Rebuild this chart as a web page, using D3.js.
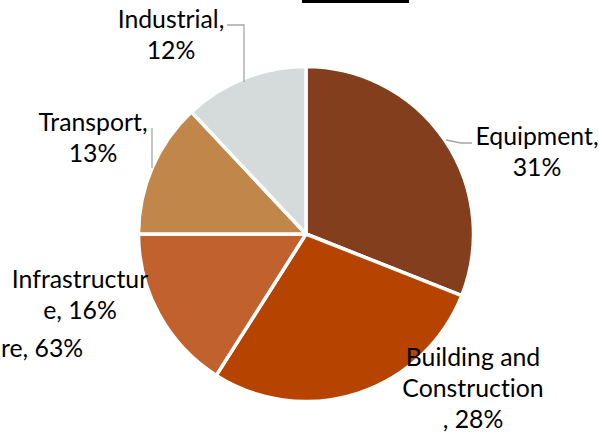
<!DOCTYPE html>
<html>
<head>
<meta charset="utf-8">
<script src="https://cdn.jsdelivr.net/npm/d3@7"></script>
<style>
  html, body { margin: 0; padding: 0; background: #fff; }
  svg { display: block; }
  text { font-family: Lato, "Open Sans", sans-serif; fill: #000; font-variant-ligatures: none; }
</style>
</head>
<body>
<div class="chart"></div>
<script>
// data
var categories = ["Equipment", "Building and Construction", "Infrastructure", "Transport", "Industrial"];
var shares = [31, 28, 16, 13, 12];
var colors = ["#833E1D", "#B74300", "#C0612E", "#C1874A", "#D5DADA"];
// label text as wrapped in the original
var labelLines = [
	["Equipment,", "31%"],
	["Building and", "Construction", ", 28%"],
	["Infrastructur", "e, 16%"],
	["Transport,", "13%"],
	["Industrial,", "12%"]
];
// stray clipped label at the left edge
var strayLabel = "re, 63%";

// layout
var width = 599, height = 434;
var cx = 306, cy = 234, radius = 167.5;
var fontSize = 24.8, lineGap = 31;
var labelPos = [
	{x: 537, y: 145},
	{x: 473, y: 366},
	{x: 80, y: 288},
	{x: 93, y: 131},
	{x: 171, y: 28}
];
var leaders = [
	[[446, 140], [461, 143], [472, 143]],
	null,
	null,
	[[152, 128], [152, 168]],
	[[227, 25], [244, 25], [244, 82]]
];

var svg = d3.select(".chart")
	.append("svg")
	.attr("width", width)
	.attr("height", height);

//black bar at top
svg.append("rect")
	.attr("x", 302)
	.attr("y", 0)
	.attr("width", 107)
	.attr("height", 3)
	.style("fill", "#000");

var pie = d3.pie().sort(null).value(function(d){ return d; });
var arc = d3.arc().innerRadius(0).outerRadius(radius);

var g = svg.append("g")
	.attr("transform", "translate(" + cx + "," + cy + ")");

g.selectAll(".slice")
	.data(pie(shares))
	.enter()
	.append("path")
	.attr("class", "slice")
	.attr("d", arc)
	.style("fill", function(d, i){ return colors[i]; })
	.style("stroke", "#fff")
	.style("stroke-width", 3.5)
	.style("stroke-linejoin", "round");

//leader lines
var line = d3.line();
svg.selectAll(".leader")
	.data(leaders.filter(function(d){ return d; }))
	.enter()
	.append("path")
	.attr("class", "leader")
	.attr("d", line)
	.style("fill", "none")
	.style("stroke", "#A6A6A6")
	.style("stroke-width", 1.3);

//labels
var labels = svg.selectAll(".label")
	.data(labelLines)
	.enter()
	.append("text")
	.attr("class", "label")
	.attr("text-anchor", "middle")
	.style("font-size", fontSize + "px")
	.attr("transform", function(d, i){
		return "translate(" + labelPos[i].x + "," + labelPos[i].y + ")";
	});

labels.selectAll("tspan")
	.data(function(d){ return d; })
	.enter()
	.append("tspan")
	.attr("x", 0)
	.attr("y", function(d, i){ return i * lineGap; })
	.text(function(d){ return d; });

svg.append("text")
	.attr("x", 1)
	.attr("y", 357)
	.style("font-size", fontSize + "px")
	.text(strayLabel);
</script>
</body>
</html>
